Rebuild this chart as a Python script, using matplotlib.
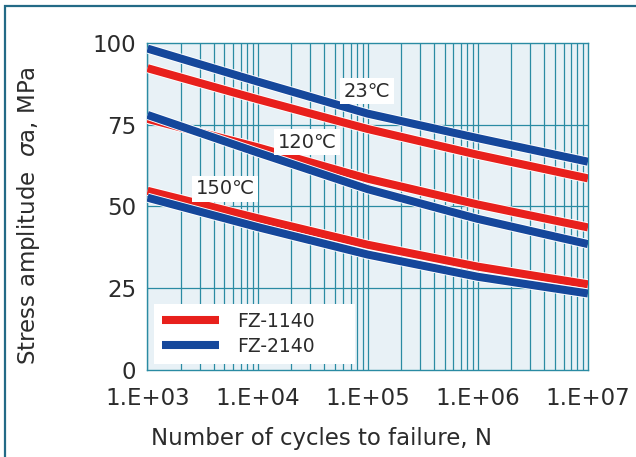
import numpy as np
import matplotlib
matplotlib.use("Agg")
import matplotlib.pyplot as plt
import matplotlib.patheffects as pe
from matplotlib.patches import Rectangle

plt.rcParams['font.family'] = ['DejaVu Sans', 'Noto Sans CJK JP']
plt.rcParams['mathtext.fontset'] = 'dejavusans'

# cycles to failure (decades) and stress amplitude
cycles = [1e3, 1e4, 1e5, 1e6, 1e7]
fz1140_23 = [92.3, 82.8, 73.7, 65.8, 58.6]
fz2140_23 = [98.3, 88.2, 78.4, 70.9, 63.7]
fz1140_120 = [76.8, 68.1, 58.5, 50.6, 43.6]
fz2140_120 = [78.0, 66.5, 55.3, 46.2, 38.5]
fz1140_150 = [54.8, 46.4, 38.3, 31.6, 26.2]
fz2140_150 = [52.7, 43.7, 35.3, 28.5, 23.4]

temp_labels = ["23℃", "120℃", "150℃"]
temp_label_pos = [(9.8e4, 85.3), (2.8e4, 69.7), (5.1e3, 55.4)]

xticks = [1e3, 1e4, 1e5, 1e6, 1e7]
xticklabels = ["1.E+03", "1.E+04", "1.E+05", "1.E+06", "1.E+07"]
yticks = [0, 25, 50, 75, 100]

RED = '#e8201c'
BLUE = '#15479b'
GRID = '#2a8ba3'
TXT = '#2b2b2b'
LW = 5.8

fig = plt.figure(figsize=(6.36, 4.57), dpi=100)
ax = fig.add_axes([0.2319, 0.1904, 0.6926, 0.7155])
ax.set_facecolor('#e8f1f6')

ax.set_xscale('log')
ax.set_xlim(1e3, 1e7)
ax.set_ylim(0, 100)

# grid: every 1..9 in each decade, and every 25 MPa
for dec in [1e3, 1e4, 1e5, 1e6]:
    for m in range(1, 10):
        ax.axvline(dec * m, color=GRID, lw=0.9, zorder=1)
for y in [25, 50, 75]:
    ax.axhline(y, color=GRID, lw=0.9, zorder=1)

stroke = [pe.withStroke(linewidth=LW + 1.3, foreground='white')]
series = [
    (fz1140_23, RED), (fz2140_23, BLUE),
    (fz1140_120, RED), (fz2140_120, BLUE),
    (fz1140_150, RED), (fz2140_150, BLUE),
]
for vals, col in series:
    ax.plot(cycles, vals, color=col, lw=LW, solid_capstyle='butt',
            path_effects=stroke, zorder=3)

for lab, (xx, yy) in zip(temp_labels, temp_label_pos):
    ax.text(xx, yy, lab, ha='center', va='center', fontsize=14, color=TXT,
            zorder=5, bbox=dict(facecolor='white', edgecolor='none', pad=2.5))

h1, = ax.plot([], [], color=RED, lw=LW, solid_capstyle='butt')
h2, = ax.plot([], [], color=BLUE, lw=LW, solid_capstyle='butt')
leg = ax.legend([h1, h2], ["FZ-1140", "FZ-2140"], loc='lower left',
                bbox_to_anchor=(0.0148, 0.018, 0.456, 0.175), mode='expand',
                borderaxespad=0, fontsize=13.5,
                frameon=True, fancybox=False, framealpha=1, edgecolor='none',
                facecolor='white', handlelength=3.0, handletextpad=1.0,
                labelspacing=0.3, borderpad=0.45, labelcolor=TXT)
leg.set_zorder(6)

ax.set_xticks(xticks)
ax.set_xticklabels(xticklabels)
ax.xaxis.set_minor_locator(plt.NullLocator())
ax.set_yticks(yticks)
ax.tick_params(length=0, labelsize=16.5, colors=TXT)
ax.tick_params(axis='x', pad=12)
ax.tick_params(axis='y', pad=8)

for s in ax.spines.values():
    s.set_color(GRID)
    s.set_linewidth(1.0)

ax.set_xlabel("Number of cycles to failure, N", fontsize=16.5, color=TXT)
ax.set_ylabel("Stress amplitude  $\\sigma$a, MPa", fontsize=16.5, color=TXT)
ax.xaxis.set_label_coords(0.396, -0.175)
ax.yaxis.set_label_coords(-0.2395, 0.471)

# outer frame
fig.patches.append(Rectangle((4.5 / 636, -0.2), 2, 1.2 - 5.5 / 457,
                             transform=fig.transFigure, fill=False,
                             edgecolor='#236a86', lw=1.6, clip_on=False))

fig.savefig("out.png", dpi=100)
